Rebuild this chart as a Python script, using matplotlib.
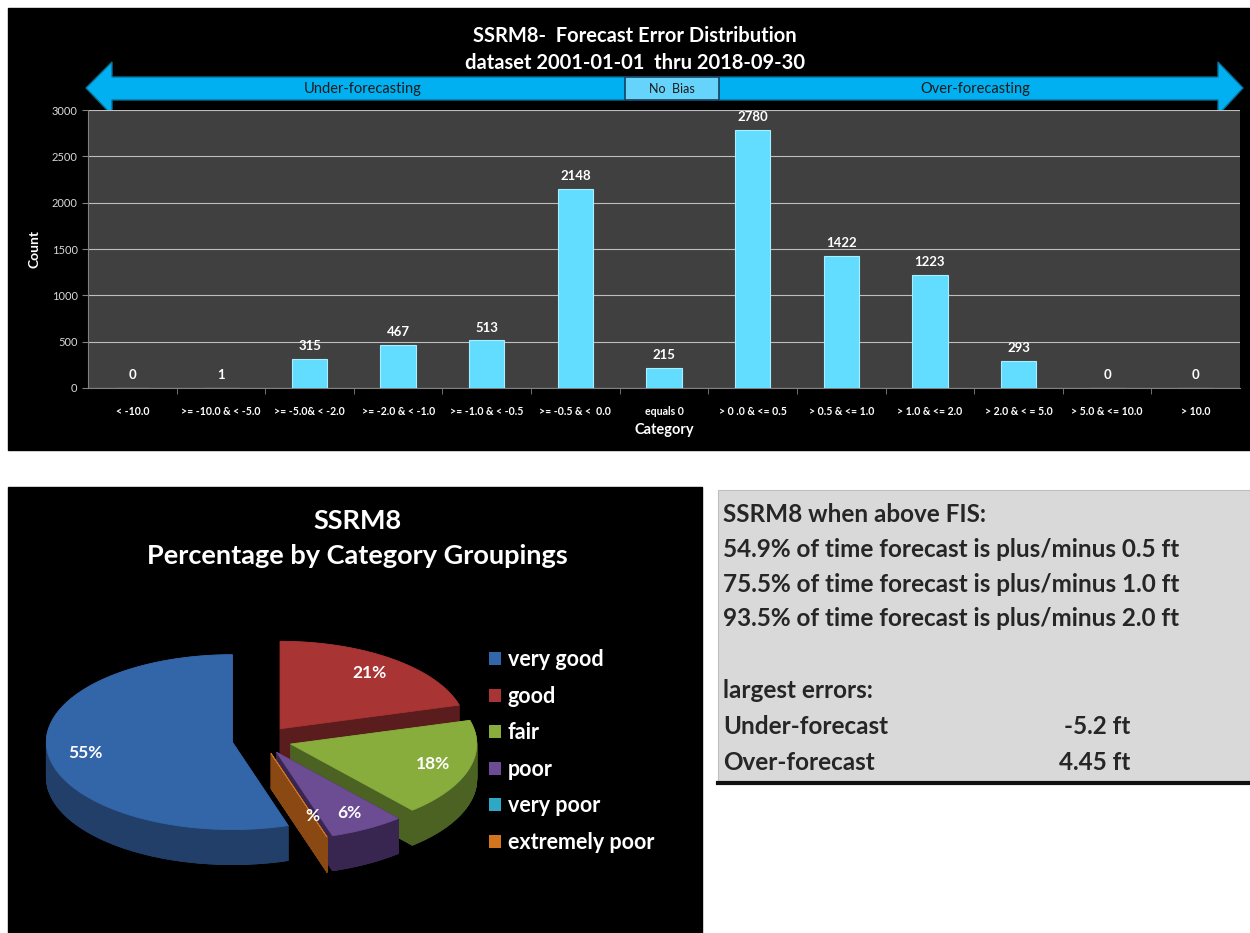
import numpy as np
import matplotlib.pyplot as plt
from matplotlib.patches import Polygon, Rectangle, Patch
from matplotlib.collections import PolyCollection

plt.rcParams['font.family'] = ['Lato', 'DejaVu Sans']

W, H = 1250, 933

# bar chart data
categories = ["< -10.0", ">= -10.0 & < -5.0", ">= -5.0& < -2.0", ">= -2.0 & < -1.0",
              ">= -1.0 & < -0.5", ">= -0.5 & <  0.0", "equals 0", "> 0 .0 & <= 0.5",
              "> 0.5 & <= 1.0", "> 1.0 & <= 2.0", "> 2.0 & < = 5.0", "> 5.0 & <= 10.0", "> 10.0"]
counts = [0, 1, 315, 467, 513, 2148, 215, 2780, 1422, 1223, 293, 0, 0]

# pie data
groups = ["very good", "good", "fair", "poor", "very poor", "extremely poor"]
group_counts = [5143, 1935, 1690, 608, 0, 1]
group_labels = ["55%", "21%", "18%", "6%", "", "%"]
top_colors = ["#3366a8", "#a83434", "#88ad3c", "#6c4c92", "#2ea8c4", "#d2751e"]
side_colors = ["#223f6a", "#5a1c1c", "#4b6222", "#382650", "#1c6070", "#8a4812"]

summary_lines = ["SSRM8 when above FIS:",
                 "54.9% of time forecast is plus/minus 0.5 ft",
                 "75.5% of time forecast is plus/minus 1.0 ft",
                 "93.5% of time forecast is plus/minus 2.0 ft"]
largest = [("Under-forecast", "-5.2 ft"), ("Over-forecast", "4.45 ft")]


def fx(x):
    return x / W


def fy(y):
    return 1 - y / H


fig = plt.figure(figsize=(12.5, 9.33), dpi=100)
fig.patch.set_facecolor('white')

bg = fig.add_axes([0, 0, 1, 1])
bg.set_xlim(0, W)
bg.set_ylim(H, 0)
bg.axis('off')

# panels
bg.add_patch(Rectangle((8, 8), W - 8, 442, color='black'))
bg.add_patch(Rectangle((8, 487), 694, H - 487, color='black'))
bg.add_patch(Rectangle((718, 490), W - 718, 292, fc='#d9d9d9', ec='#bfbfbf', lw=0.8))
bg.plot([718, W], [783, 783], color='#111111', lw=3)

# titles
bg.text(635, 36, "SSRM8-  Forecast Error Distribution", color='white', fontsize=14.5,
        fontweight='bold', ha='center', va='center')
bg.text(635, 63, "dataset 2001-01-01  thru 2018-09-30", color='white', fontsize=14.5,
        fontweight='bold', ha='center', va='center')

# double arrow with no-bias box
arrow = [(86, 88), (112, 62), (112, 77), (1218, 77), (1218, 62), (1243, 88),
         (1218, 115), (1218, 100), (112, 100), (112, 115)]
bg.add_patch(Polygon(arrow, closed=True, fc='#00b0f0', ec='#0b6f99', lw=1))
bg.add_patch(Rectangle((625, 77), 94, 23, fc='#66d4fa', ec='#17405e', lw=1.2))
bg.text(363, 89, "Under-forecasting", fontsize=10.5, color='#1a1a1a', ha='center', va='center')
bg.text(672, 89, "No  Bias", fontsize=9, color='#1a1a1a', ha='center', va='center')
bg.text(975, 89, "Over-forecasting", fontsize=10.5, color='#1a1a1a', ha='center', va='center')

# bar chart
ax = fig.add_axes([fx(88), fy(388), 1152 / W, 278 / H])
ax.set_facecolor('#404040')
x = np.arange(len(categories))
bars = ax.bar(x, counts, width=0.4, color='#62dcff', edgecolor='#a8efff', lw=0.8, zorder=3)
ax.bar_label(bars, padding=5, color='white', fontsize=9.5, fontweight='bold')
ax.set_xlim(-0.5, len(categories) - 0.5)
ax.set_ylim(0, 3000)
ax.set_yticks(range(0, 3001, 500))
ax.yaxis.grid(True, color='#bfbfbf', lw=0.8, zorder=0)
ax.set_xticks(x)
ax.set_xticklabels(categories, fontsize=7.6, color='white', fontweight='bold')
ax.set_xticks(x[:-1] + 0.5, minor=True)
ax.tick_params(axis='x', which='major', length=0, pad=13)
ax.tick_params(axis='x', which='minor', length=4, color='#808080')
ax.tick_params(axis='y', labelsize=8, labelcolor='#d9d9d9', color='#808080', length=4)
for s in ['top', 'right']:
    ax.spines[s].set_visible(False)
for s in ['left', 'bottom']:
    ax.spines[s].set_color('#808080')
ax.set_ylabel("Count", color='white', fontsize=10, fontweight='bold', labelpad=8)
ax.set_xlabel("Category", color='white', fontsize=10.5, fontweight='bold', labelpad=4)

# pie titles
bg.text(357, 521, "SSRM8", color='white', fontsize=19.5, fontweight='bold', ha='center', va='center')
bg.text(357, 556, "Percentage by Category Groupings", color='white', fontsize=19.5,
        fontweight='bold', ha='center', va='center')

# exploded 3-D style pie
cx, cy, R, k, depth, expl = 262, 740, 186, 0.47, 35, 30
fr = np.array(group_counts) / sum(group_counts)
theta0 = 90 + 360 * fr[0]
ends = theta0 - 360 * np.cumsum(fr)
starts = np.concatenate([[theta0], ends[:-1]])


def ell(a, r):
    t = np.radians(a)
    return np.column_stack([r * np.cos(t), -k * r * np.sin(t)])


order = [1, 0, 2, 3, 5, 4]
for i in order:
    if group_counts[i] == 0:
        continue
    a2, a1 = starts[i], ends[i]
    mid = (a1 + a2) / 2
    apex = np.array([cx, cy]) + ell(mid, expl)[0]
    arc = apex + ell(np.linspace(a1, a2, 120), R)
    top = np.vstack([apex, arc])
    low = top + [0, depth]
    quads = [np.array([top[j], top[(j + 1) % len(top)], low[(j + 1) % len(top)], low[j]])
             for j in range(len(top))]
    bg.add_collection(PolyCollection(quads + [low], facecolor=side_colors[i],
                                     edgecolor=side_colors[i], lw=0.6))
    bg.add_patch(Polygon(top, closed=True, fc=top_colors[i], ec=top_colors[i], lw=0.6))
    lp = apex + ell(mid, 0.8 * R)[0]
    if group_counts[i] < 10:
        lp = apex + ell(mid, 0.75 * R)[0]
    bg.text(lp[0], lp[1], group_labels[i], color='white', fontsize=12.5, fontweight='bold',
            ha='center', va='center')

handles = [Patch(fc=top_colors[i], ec='none') for i in range(len(groups))]
bg.legend(handles, groups, loc='upper left', bbox_to_anchor=(fx(470), fy(630)),
          bbox_transform=fig.transFigure, frameon=False, labelcolor='white',
          prop={'size': 15.5, 'weight': 'bold'}, handlelength=0.55, handleheight=0.55,
          handletextpad=0.3, labelspacing=0.72)

# summary text box
for n, line in enumerate(summary_lines):
    bg.text(723, 515 + n * 34.5, line, color='#262626', fontsize=17.5, fontweight='bold', va='center')
bg.text(723, 690, "largest errors:", color='#262626', fontsize=17.5, fontweight='bold', va='center')
for n, (name, val) in enumerate(largest):
    bg.text(723, 726 + n * 37, name, color='#262626', fontsize=17.5, fontweight='bold', va='center')
    bg.text(1130, 726 + n * 37, val, color='#262626', fontsize=17.5, fontweight='bold',
            va='center', ha='right')

fig.savefig('out.png', dpi=100)
